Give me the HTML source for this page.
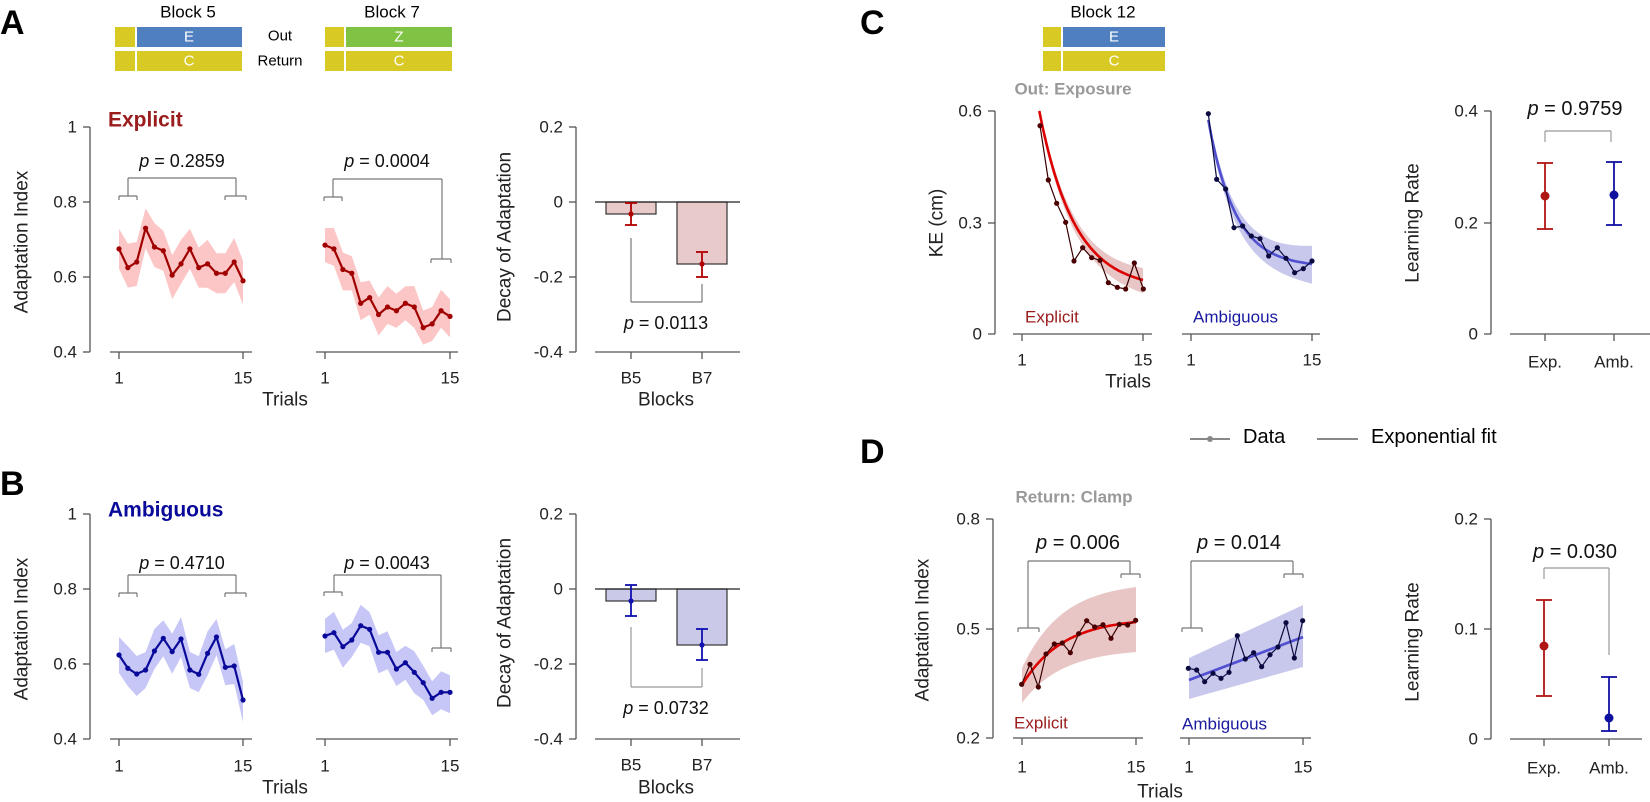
<!DOCTYPE html>
<html><head><meta charset="utf-8"><style>
html,body{margin:0;padding:0;background:#fff;}
svg{display:block;font-family:"Liberation Sans",Arial,sans-serif;}
text{dominant-baseline:central;}
.t{font-size:17px;fill:#222;}
.l{font-size:19px;fill:#222;}
.p{font-size:18px;fill:#111;}
.p2{font-size:20px;fill:#111;}
</style></head><body>
<svg id="s" width="1650" height="802" viewBox="0 0 1650 802" xmlns="http://www.w3.org/2000/svg">
<g id="g"></g>
<!-- Panel letters -->
<text x="0" y="23" font-size="34" font-weight="bold">A</text>
<text x="0" y="484" font-size="34" font-weight="bold">B</text>
<text x="860" y="23" font-size="34" font-weight="bold">C</text>
<text x="860" y="452" font-size="34" font-weight="bold">D</text>
<!-- header A -->
<text x="188" y="12" font-size="17" text-anchor="middle">Block 5</text>
<text x="392" y="12" font-size="17" text-anchor="middle">Block 7</text>
<rect x="115" y="27" width="20" height="20" fill="#d9c925"/><rect x="137" y="27" width="105" height="20" fill="#4f7fbf"/>
<rect x="115" y="51" width="20" height="20" fill="#d9c925"/><rect x="137" y="51" width="105" height="20" fill="#d9c925"/>
<rect x="325" y="27" width="19" height="20" fill="#d9c925"/><rect x="346" y="27" width="106" height="20" fill="#80c244"/>
<rect x="325" y="51" width="19" height="20" fill="#d9c925"/><rect x="346" y="51" width="106" height="20" fill="#d9c925"/>
<text x="189" y="37" font-size="15" fill="#fff" text-anchor="middle">E</text>
<text x="189" y="61" font-size="15" fill="#fff" text-anchor="middle">C</text>
<text x="399" y="37" font-size="15" fill="#fff" text-anchor="middle">Z</text>
<text x="399" y="61" font-size="15" fill="#fff" text-anchor="middle">C</text>
<text x="280" y="36" font-size="15" text-anchor="middle">Out</text>
<text x="280" y="61" font-size="15" text-anchor="middle">Return</text>
<!-- header C -->
<text x="1103" y="12" font-size="17" text-anchor="middle">Block 12</text>
<rect x="1043" y="27" width="18" height="20" fill="#d9c925"/><rect x="1063" y="27" width="102" height="20" fill="#4f7fbf"/>
<rect x="1043" y="51" width="18" height="20" fill="#d9c925"/><rect x="1063" y="51" width="102" height="20" fill="#d9c925"/>
<text x="1114" y="37" font-size="15" fill="#fff" text-anchor="middle">E</text>
<text x="1114" y="61" font-size="15" fill="#fff" text-anchor="middle">C</text>

<!-- A texts -->
<text x="108" y="120" font-size="21" font-weight="bold" fill="#9b1c1c">Explicit</text>
<text transform="translate(22,242) rotate(-90)" class="l" text-anchor="middle">Adaptation Index</text>
<text x="77" y="127" class="t" text-anchor="end">1</text>
<text x="77" y="202" class="t" text-anchor="end">0.8</text>
<text x="77" y="277" class="t" text-anchor="end">0.6</text>
<text x="77" y="352" class="t" text-anchor="end">0.4</text>
<text x="119" y="378" class="t" text-anchor="middle">1</text><text x="243" y="378" class="t" text-anchor="middle">15</text>
<text x="325" y="378" class="t" text-anchor="middle">1</text><text x="450" y="378" class="t" text-anchor="middle">15</text>
<text x="285" y="400" class="l" text-anchor="middle">Trials</text>
<text x="182" y="161" class="p" text-anchor="middle"><tspan font-style="italic">p</tspan> = 0.2859</text>
<text x="387" y="161" class="p" text-anchor="middle"><tspan font-style="italic">p</tspan> = 0.0004</text>
<text transform="translate(505,237) rotate(-90)" class="l" text-anchor="middle">Decay of Adaptation</text>
<text x="563" y="127" class="t" text-anchor="end">0.2</text>
<text x="563" y="202" class="t" text-anchor="end">0</text>
<text x="563" y="277" class="t" text-anchor="end">-0.2</text>
<text x="563" y="352" class="t" text-anchor="end">-0.4</text>
<text x="631" y="378" class="t" text-anchor="middle">B5</text><text x="702" y="378" class="t" text-anchor="middle">B7</text>
<text x="666" y="400" class="l" text-anchor="middle">Blocks</text>
<text x="666" y="323" class="p" text-anchor="middle"><tspan font-style="italic">p</tspan> = 0.0113</text>

<!-- B texts -->
<text x="108" y="510" font-size="21" font-weight="bold" fill="#0a0a9a">Ambiguous</text>
<text transform="translate(22,629) rotate(-90)" class="l" text-anchor="middle">Adaptation Index</text>
<text x="77" y="514" class="t" text-anchor="end">1</text>
<text x="77" y="589" class="t" text-anchor="end">0.8</text>
<text x="77" y="664" class="t" text-anchor="end">0.6</text>
<text x="77" y="739" class="t" text-anchor="end">0.4</text>
<text x="119" y="766" class="t" text-anchor="middle">1</text><text x="243" y="766" class="t" text-anchor="middle">15</text>
<text x="325" y="766" class="t" text-anchor="middle">1</text><text x="450" y="766" class="t" text-anchor="middle">15</text>
<text x="285" y="788" class="l" text-anchor="middle">Trials</text>
<text x="182" y="563" class="p" text-anchor="middle"><tspan font-style="italic">p</tspan> = 0.4710</text>
<text x="387" y="563" class="p" text-anchor="middle"><tspan font-style="italic">p</tspan> = 0.0043</text>
<text transform="translate(505,623) rotate(-90)" class="l" text-anchor="middle">Decay of Adaptation</text>
<text x="563" y="514" class="t" text-anchor="end">0.2</text>
<text x="563" y="589" class="t" text-anchor="end">0</text>
<text x="563" y="664" class="t" text-anchor="end">-0.2</text>
<text x="563" y="739" class="t" text-anchor="end">-0.4</text>
<text x="631" y="765" class="t" text-anchor="middle">B5</text><text x="702" y="765" class="t" text-anchor="middle">B7</text>
<text x="666" y="788" class="l" text-anchor="middle">Blocks</text>
<text x="666" y="708" class="p" text-anchor="middle"><tspan font-style="italic">p</tspan> = 0.0732</text>

<!-- C texts -->
<text x="1073" y="89" font-size="17" font-weight="bold" fill="#999" text-anchor="middle">Out: Exposure</text>
<text transform="translate(937,223) rotate(-90)" class="l" text-anchor="middle">KE (cm)</text>
<text x="982" y="111" class="t" text-anchor="end">0.6</text>
<text x="982" y="223" class="t" text-anchor="end">0.3</text>
<text x="982" y="334" class="t" text-anchor="end">0</text>
<text x="1022" y="360" class="t" text-anchor="middle">1</text><text x="1143" y="360" class="t" text-anchor="middle">15</text>
<text x="1191" y="360" class="t" text-anchor="middle">1</text><text x="1312" y="360" class="t" text-anchor="middle">15</text>
<text x="1128" y="382" class="l" text-anchor="middle">Trials</text>
<text x="1025" y="317" font-size="17" fill="#9b1c1c">Explicit</text>
<text x="1193" y="317" font-size="17" fill="#1a1aa0">Ambiguous</text>
<text transform="translate(1413,223) rotate(-90)" class="l" text-anchor="middle">Learning Rate</text>
<text x="1478" y="111" class="t" text-anchor="end">0.4</text>
<text x="1478" y="223" class="t" text-anchor="end">0.2</text>
<text x="1478" y="334" class="t" text-anchor="end">0</text>
<text x="1545" y="362" class="t" text-anchor="middle">Exp.</text><text x="1614" y="362" class="t" text-anchor="middle">Amb.</text>
<text x="1575" y="109" class="p2" text-anchor="middle"><tspan font-style="italic">p</tspan> = 0.9759</text>

<!-- legend -->
<text x="1243" y="437" font-size="20">Data</text>
<text x="1371" y="437" font-size="20">Exponential fit</text>

<!-- D texts -->
<text x="1074" y="497" font-size="17" font-weight="bold" fill="#999" text-anchor="middle">Return: Clamp</text>
<text transform="translate(923,630) rotate(-90)" class="l" text-anchor="middle">Adaptation Index</text>
<text x="980" y="519" class="t" text-anchor="end">0.8</text>
<text x="980" y="629" class="t" text-anchor="end">0.5</text>
<text x="980" y="738" class="t" text-anchor="end">0.2</text>
<text x="1022" y="767" class="t" text-anchor="middle">1</text><text x="1136" y="767" class="t" text-anchor="middle">15</text>
<text x="1189" y="767" class="t" text-anchor="middle">1</text><text x="1303" y="767" class="t" text-anchor="middle">15</text>
<text x="1160" y="792" class="l" text-anchor="middle">Trials</text>
<text x="1014" y="723" font-size="17" fill="#9b1c1c">Explicit</text>
<text x="1182" y="724" font-size="17" fill="#1a1aa0">Ambiguous</text>
<text x="1078" y="543" class="p2" text-anchor="middle"><tspan font-style="italic">p</tspan> = 0.006</text>
<text x="1239" y="543" class="p2" text-anchor="middle"><tspan font-style="italic">p</tspan> = 0.014</text>
<text transform="translate(1413,642) rotate(-90)" class="l" text-anchor="middle">Learning Rate</text>
<text x="1478" y="519" class="t" text-anchor="end">0.2</text>
<text x="1478" y="629" class="t" text-anchor="end">0.1</text>
<text x="1478" y="739" class="t" text-anchor="end">0</text>
<text x="1544" y="768" class="t" text-anchor="middle">Exp.</text><text x="1609" y="768" class="t" text-anchor="middle">Amb.</text>
<text x="1575" y="552" class="p2" text-anchor="middle"><tspan font-style="italic">p</tspan> = 0.030</text>
</svg>
<script>
var g=document.getElementById('g'),NS='http://www.w3.org/2000/svg';
function el(n,a){var e=document.createElementNS(NS,n);for(var k in a)e.setAttribute(k,a[k]);g.appendChild(e);return e;}
function L(x1,y1,x2,y2,c,w){el('line',{x1:x1,y1:y1,x2:x2,y2:y2,stroke:c||'#555','stroke-width':w||1.3});}
function pl(pts,c,w){el('polyline',{points:pts.map(p=>p[0].toFixed(1)+','+p[1].toFixed(1)).join(' '),fill:'none',stroke:c,'stroke-width':w,'stroke-linejoin':'round'});}
function pg(up,lo,c){var pts=up.concat(lo.slice().reverse());el('polygon',{points:pts.map(p=>p[0].toFixed(1)+','+p[1].toFixed(1)).join(' '),fill:c});}
function dots(pts,c,r){pts.forEach(p=>el('circle',{cx:p[0],cy:p[1],r:r,fill:c}));}
function yaxis(x,ys){L(x,ys[0],x,ys[ys.length-1]);ys.forEach(y=>L(x-7,y,x,y));}
function xaxis(y,x1,x2,ts){L(x1,y,x2,y);ts.forEach(t=>L(t,y,t,y+7));}
function bracket(xl,xr,top,yl,yr,bl,br,c){c=c||'#777';
 L(xl,top,xr,top,c,1.2);L(xl,top,xl,yl,c,1.2);L(xr,top,xr,yr,c,1.2);
 if(bl){L(bl[0],yl,bl[1],yl,c,1.2);L(bl[0],yl,bl[0],yl+4,c,1.2);L(bl[1],yl,bl[1],yl+4,c,1.2);}
 if(br){L(br[0],yr,br[1],yr,c,1.2);L(br[0],yr,br[0],yr+4,c,1.2);L(br[1],yr,br[1],yr+4,c,1.2);}}
function series(x1,dx,ys,col,bc,bw){var p=ys.map((y,i)=>[x1+i*dx,y]);
 var up=p.map((q,i)=>[q[0],q[1]-bw-(i%3==1?4:0)]),lo=p.map((q,i)=>[q[0],q[1]+bw+(i%4==2?4:0)]);
 pg(up,lo,bc);pl(p,col,2.2);dots(p,col,2.6);}
// ---------- A ----------
yaxis(90,[127,202,277,352]);xaxis(352,110,252,[119,243]);xaxis(352,316,458,[325,450]);
var vA1=[0.675,0.625,0.64,0.73,0.68,0.67,0.605,0.635,0.675,0.625,0.635,0.61,0.61,0.64,0.59];
var vA2=[0.685,0.675,0.62,0.61,0.53,0.545,0.5,0.52,0.51,0.53,0.52,0.465,0.475,0.51,0.495];
series(119,8.86,vA1.map(v=>127+(1-v)*375),'#a00000','#fcc6c6',20);
series(325,8.93,vA2.map(v=>127+(1-v)*375),'#a00000','#fcc6c6',17);
bracket(128,236,178,196,196,[119,137],[225,246]);
bracket(333,442,179,197,259,[324,342],[431,451]);
// A bars
yaxis(576,[127,202,277,352]);xaxis(352,595,740,[631,702]);
el('rect',{x:606,y:202,width:50,height:12,fill:'#e8caca',stroke:'#333','stroke-width':1.2});
el('rect',{x:677,y:202,width:50,height:62,fill:'#e8caca',stroke:'#333','stroke-width':1.2});
L(595,202,740,202,'#222',1.3);
function eb(x,y1,y2,m,c,hw,r){L(x,y1,x,y2,c,1.8);L(x-hw,y1,x+hw,y1,c,1.8);L(x-hw,y2,x+hw,y2,c,1.8);el('circle',{cx:x,cy:m,r:r||2.6,fill:c});}
eb(631,203,225,214,'#b00000',6);eb(702,252,277,264,'#b00000',6);
L(631,238,631,302,'#777',1.2);L(631,302,702,302,'#777',1.2);L(702,302,702,284,'#777',1.2);
// ---------- B ----------
yaxis(90,[514,589,664,739]);xaxis(739,110,252,[119,243]);xaxis(739,316,458,[325,450]);
var zB1=[765,805,822,810,753,715,755,717,810,823,760,711,802,798,900];
var zB2=[588,578,620,600,557,568,637,637,687,668,697,728,775,757,757];
series(119,8.86,zB1.map(z=>400+z/3),'#0a0a9a','#c6c6f7',18);
series(325,8.93,zB2.map(z=>440+z/3),'#0a0a9a','#c6c6f7',17);
bracket(128,236,575,593,593,[119,137],[225,246]);
bracket(334,441,575,592,648,[324,342],[432,451]);
yaxis(576,[514,589,664,739]);xaxis(739,595,740,[631,702]);
el('rect',{x:606,y:589,width:50,height:12,fill:'#cacae8',stroke:'#333','stroke-width':1.2});
el('rect',{x:677,y:589,width:50,height:56,fill:'#cacae8',stroke:'#333','stroke-width':1.2});
L(595,589,740,589,'#222',1.3);
eb(631,585,616,601,'#1010b0',6);eb(702,629,660,645,'#1010b0',6);
L(631,627,631,687,'#999',1.2);L(631,687,702,687,'#999',1.2);L(702,687,702,668,'#999',1.2);
// ---------- C ----------
yaxis(995,[111,223,334]);xaxis(334,1013,1152,[1022,1143]);xaxis(334,1182,1320,[1191,1312]);
function cfit(x1,c,a,b,w0,w1,fc,bc){var f=[],up=[],lo=[];for(var t=3;t<=15.001;t+=0.2){var x=x1+(t-1)*8.64,y=334-(c+a*Math.exp(-b*(t-3)))*371.7,w=w0+(w1-w0)*(t-3)/12;f.push([x,y]);up.push([x,y-w]);lo.push([x,y+w*1.1]);}
 pg(up,lo,bc);return f;}
var fE=cfit(1022,0.12,0.48,0.245,4,12,'#dd0000','#e8c6c6');
var dE=[[540,137],[565,300],[590,370],[617,427],[642,543],[668,503],[695,533],[720,541],[745,608],[772,622],[797,627],[823,549],[850,627]].map(p=>[860+p[0]/3,80+p[1]/3]);
pl(fE,'#dd0000',2.6);pl(dE,'#3a0000',1.2);dots(dE,'#4a0000',2.6);
var fA=cfit(1191,0.18,0.396,0.32,5,18,'#5050d0','#c8c8ec');
var dA=[[145,101],[170,298],[197,327],[222,443],[248,438],[274,468],[300,476],[326,528],[352,503],[378,535],[404,578],[430,566],[456,543]].map(p=>[1160+p[0]/3,80+p[1]/3]);
pl(fA,'#5050d0',2.6);pl(dA,'#0a0a40',1.2);dots(dA,'#0a0a40',2.6);
yaxis(1491,[111,223,334]);xaxis(334,1510,1650,[1545,1614]);
eb(1545,163,229,196,'#b01515',8,4.5);eb(1614,162,225,195,'#1010a0',8,4.5);
L(1545,142,1545,131,'#999',1.2);L(1545,131,1611,131,'#999',1.2);L(1611,131,1611,142,'#999',1.2);
// legend
L(1190,439,1230,439,'#888',2);el('circle',{cx:1210,cy:439,r:3,fill:'#888'});
L(1317,439,1358,439,'#888',2);
// ---------- D ----------
yaxis(993,[519,629,738]);xaxis(738,1013,1143,[1022,1136]);xaxis(738,1180,1311,[1189,1303]);
var f=[],up=[],lo=[];for(var t=1;t<=15.001;t+=0.2){var x=1022+(t-1)*8.14,e=Math.exp(-0.2*(t-1)),y=618+67*e,w=(1-e)/(1-Math.exp(-2.8));f.push([x,y]);up.push([x,y-17-18*w]);lo.push([x,y+18+12*w]);}
pg(up,lo,'#e8c6c6');
var dDE=[[485,643],[510,583],[535,651],[558,552],[583,522],[607,519],[631,548],[656,491],[680,452],[704,471],[729,464],[753,505],[778,463],[803,465],[827,451]].map(p=>[860+p[0]/3,470+p[1]/3]);
pl(f,'#dd0000',2.6);pl(dDE,'#3a0000',1.2);dots(dDE,'#4a0000',2.6);
pg([[1189,658],[1303,605]],[[1189,699],[1303,667]],'#c8c8ec');
var dDA=[[85,565],[110,570],[134,605],[159,580],[183,595],[207,577],[232,467],[256,537],[281,518],[305,560],[330,524],[354,501],[378,428],[403,534],[428,422]].map(p=>[1160+p[0]/3,480+p[1]/3]);
pl([[1189,680],[1303,637]],'#5050d0',2.6);pl(dDA,'#0a0a40',1.2);dots(dDA,'#0a0a40',2.6);
bracket(1028,1130,561,628,574,[1018,1039],[1121,1140]);
bracket(1191,1293,561,628,574,[1182,1202],[1284,1303]);
yaxis(1491,[519,629,739]);xaxis(739,1510,1642,[1544,1609]);
eb(1544,600,696,646,'#b01515',8,4.5);eb(1609,677,731,718,'#1010a0',8,4.5);
L(1544,579,1544,568,'#999',1.2);L(1544,568,1609,568,'#999',1.2);L(1609,568,1609,655,'#999',1.2);
</script>
</body></html>
